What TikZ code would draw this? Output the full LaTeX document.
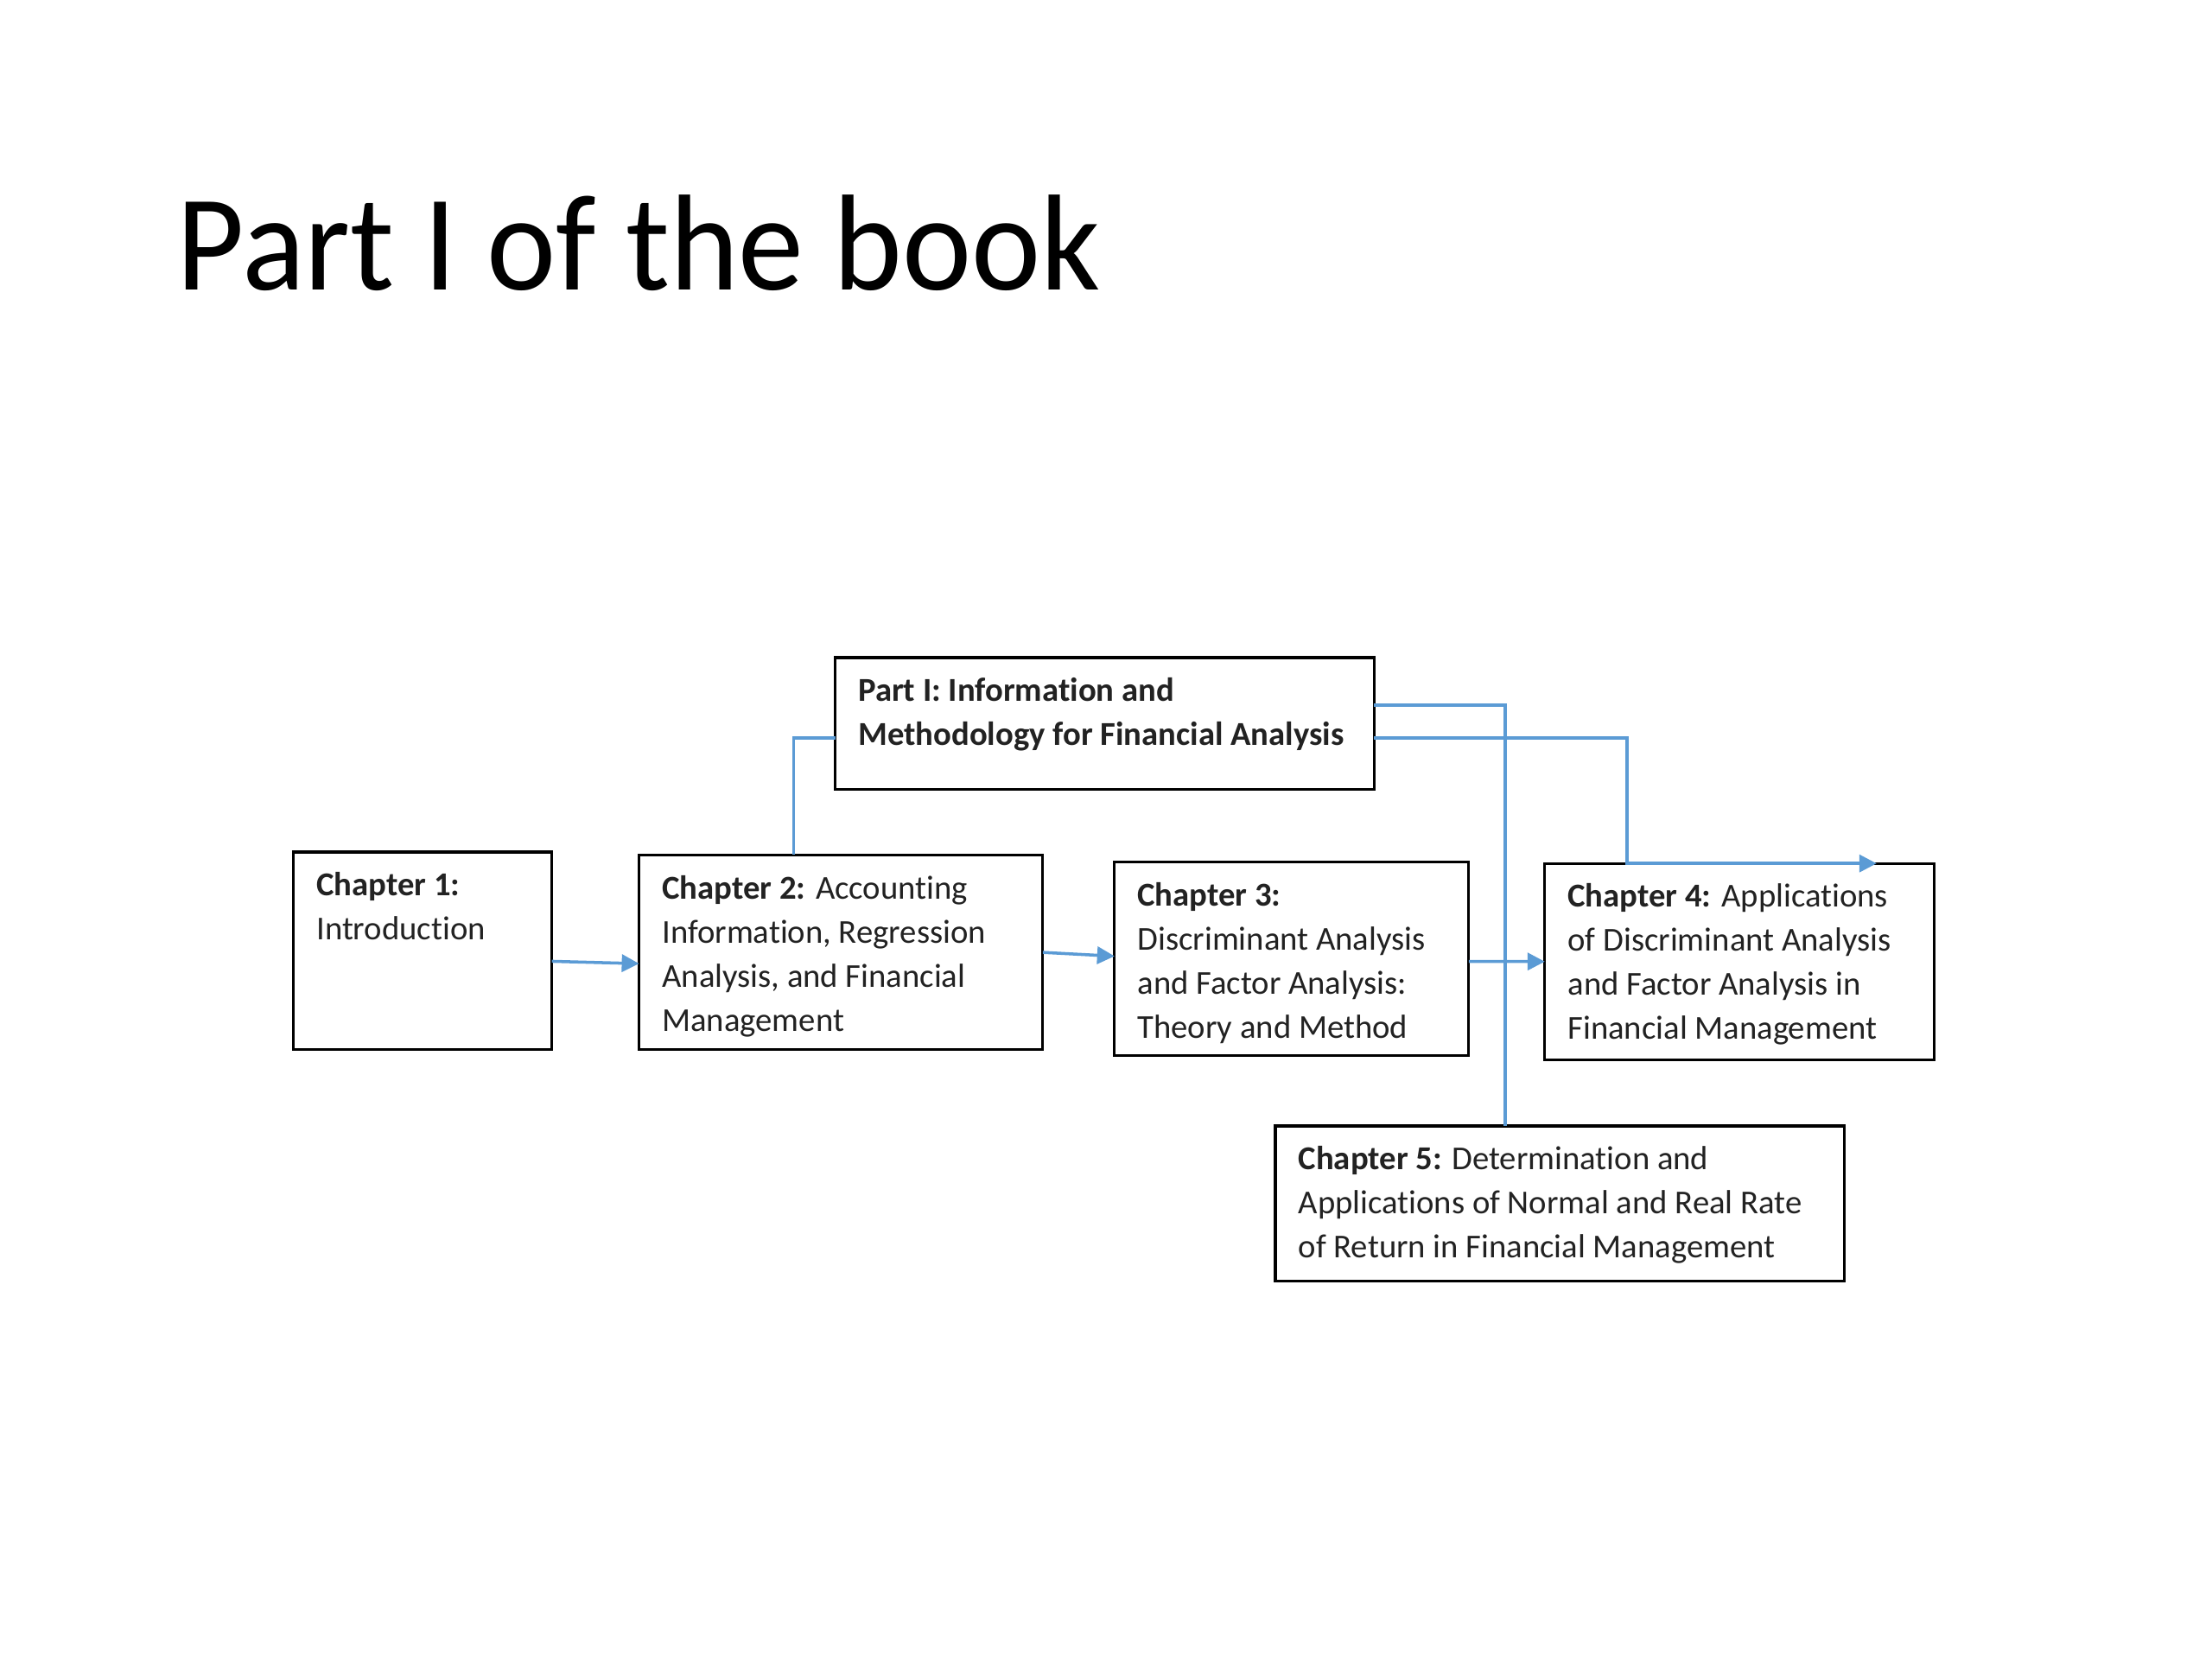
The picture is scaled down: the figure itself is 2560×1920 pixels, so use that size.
\documentclass[tikz,border=0pt]{standalone}
\usepackage{fontspec}
\setmainfont{Carlito}[Ligatures=NoCommon]
\usetikzlibrary{arrows.meta,calc}
\definecolor{conn}{HTML}{5B9BD5}
\definecolor{ink}{HTML}{222222}
\newcommand{\firstln}{\rule{0pt}{0.35cm}}
\tikzset{
  box/.style={draw=black, line width=0.9pt, anchor=north west, inner sep=0pt, outer sep=0pt, fill=white},
  txt/.style={anchor=north west, inner sep=0pt, align=left, text=ink, font=\fontsize{11}{14.5}\selectfont},
  arr/.style={draw=conn, line width=1pt, -{Triangle[length=0.2cm,width=0.2cm]}},
  lnk/.style={draw=conn, line width=1pt},
}
\begin{document}
\begin{tikzpicture}[x=0.01cm, y=-0.01cm]
\useasboundingbox (0,0) rectangle (2560,1920);
\fill[white] (0,0) rectangle (2560,1920);

\node[anchor=base west, inner sep=0pt, font=\fontsize{45}{54}\selectfont] (title) at (204,335) {\scalebox{0.96}[1]{Part I of the book}};

% boxes
\node[box, minimum width=6.235cm, minimum height=1.52cm] (p) at (966.5,761) {};
\node[box, minimum width=2.988cm, minimum height=2.287cm] (c1) at (339.6,986) {};
\node[box, minimum width=4.67cm, minimum height=2.253cm] (c2) at (739.6,989.4) {};
\node[box, minimum width=4.098cm, minimum height=2.237cm] (c3) at (1289.8,997.6) {};
\node[box, minimum width=4.506cm, minimum height=2.27cm] (c4) at (1787.8,999.2) {};
\node[box, minimum width=6.58cm, minimum height=1.795cm] (c5) at (1476,1303) {};

% texts (first baseline 50px below box top)
\node[txt] (pt) at ($(p.north west)+(26,15)$) {\firstln\textbf{Part I: Information and}\\\textbf{Methodology for Financial Analysis}};
\node[txt] (c1t) at ($(c1.north west)+(26,15)$) {\firstln\textbf{Chapter 1:}\\Introduction};
\node[txt] (c2t) at ($(c2.north west)+(26,15)$) {\firstln\textbf{Chapter 2:} Accounting\\Information, Regression\\Analysis, and Financial\\Management};
\node[txt] (c3t) at ($(c3.north west)+(26,15)$) {\firstln\textbf{Chapter 3:}\\Discriminant Analysis\\and Factor Analysis:\\Theory and Method};
\node[txt] (c4t) at ($(c4.north west)+(26,15)$) {\firstln\textbf{Chapter 4:} Applications\\of Discriminant Analysis\\and Factor Analysis in\\Financial Management};
\node[txt] (c5t) at ($(c5.north west)+(26,15)$) {\firstln\textbf{Chapter 5:} Determination and\\Applications of Normal and Real Rate\\of Return in Financial Management};

% connectors
\draw[arr] ($(c1.east)+(0,12)$) -- ($(c2.west)+(0,13)$);
\draw[arr] (c2.east) -- ($(c3.west)+(0,-3)$);
\draw[arr] ($(c3.east)+(0,3)$) -- ($(c4.west)+(0,0)$);
\draw[lnk] ($(p.west)+(0,17)$) -| ($(c2.north west)+(179,0)$);
\draw[arr] ($(p.east)+(0,17)$) -| ($(c4.north west)+(95,0)$) -- ($(c4.north west)+(384,0)$);
\draw[lnk] ($(p.east)+(0,-21)$) -| ($(c5.north west)+(266,0)$);
\end{tikzpicture}
\end{document}
